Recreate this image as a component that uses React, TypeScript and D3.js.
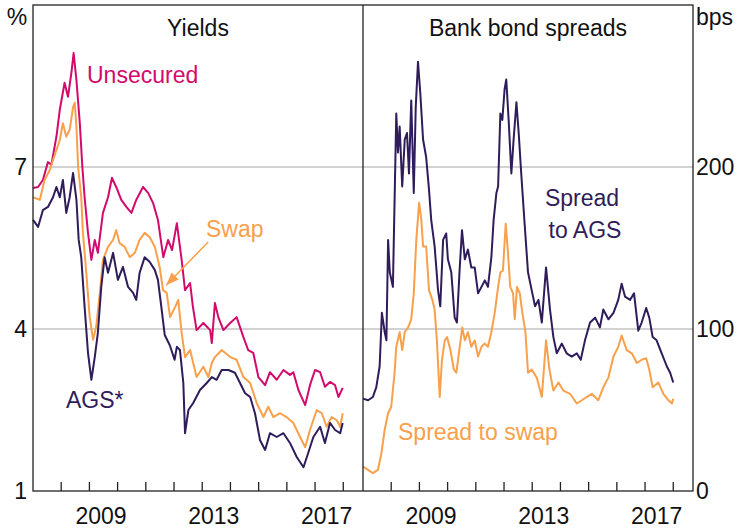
import { useRef, useEffect } from 'react';
import * as d3 from 'd3';

type Pt = [number, number];

// [decimal year, per cent]
const unsecured: Pt[] = [
  [2007.0, 6.61], [2007.18, 6.63], [2007.35, 6.76], [2007.53, 7.09], [2007.65, 7.04],
  [2007.83, 7.56], [2007.95, 8.06], [2008.12, 8.56], [2008.24, 8.3], [2008.36, 8.74],
  [2008.44, 9.11], [2008.54, 8.61], [2008.66, 7.81], [2008.75, 7.0], [2008.83, 6.44],
  [2008.95, 5.78], [2009.07, 5.28], [2009.19, 5.65], [2009.3, 5.41], [2009.48, 6.15],
  [2009.66, 6.44], [2009.8, 6.8], [2009.95, 6.63], [2010.13, 6.39], [2010.31, 6.26],
  [2010.49, 6.15], [2010.66, 6.39], [2010.9, 6.63], [2011.08, 6.52], [2011.26, 6.33],
  [2011.43, 6.02], [2011.62, 5.33], [2011.79, 5.65], [2011.93, 5.46], [2012.1, 5.96],
  [2012.27, 5.28], [2012.39, 4.72], [2012.57, 4.85], [2012.67, 4.41], [2012.8, 3.98],
  [2013.04, 4.11], [2013.28, 3.98], [2013.34, 3.74], [2013.45, 4.48], [2013.57, 4.22],
  [2013.75, 3.98], [2013.99, 4.11], [2014.22, 4.22], [2014.46, 3.85], [2014.63, 3.61],
  [2014.81, 3.56], [2014.99, 3.11], [2015.23, 2.96], [2015.4, 3.2], [2015.64, 3.06],
  [2015.88, 3.24], [2016.11, 3.15], [2016.23, 3.2], [2016.41, 2.87], [2016.65, 2.59],
  [2016.82, 2.96], [2017.0, 3.24], [2017.18, 3.2], [2017.35, 2.93], [2017.53, 3.02],
  [2017.71, 2.96], [2017.83, 2.74], [2017.98, 2.91],
];

const swap: Pt[] = [
  [2007.0, 6.44], [2007.24, 6.39], [2007.41, 6.76], [2007.59, 6.94], [2007.71, 7.13],
  [2007.83, 7.31], [2007.95, 7.5], [2008.06, 7.81], [2008.18, 7.56], [2008.3, 7.69],
  [2008.42, 8.11], [2008.48, 8.19], [2008.54, 7.74], [2008.6, 7.0], [2008.71, 6.44],
  [2008.77, 5.78], [2008.89, 5.04], [2009.01, 4.22], [2009.13, 3.8], [2009.24, 4.04],
  [2009.37, 4.67], [2009.48, 5.28], [2009.66, 5.52], [2009.84, 5.65], [2009.95, 5.83],
  [2010.07, 5.59], [2010.25, 5.52], [2010.43, 5.33], [2010.61, 5.41], [2010.78, 5.65],
  [2010.96, 5.78], [2011.14, 5.7], [2011.32, 5.52], [2011.49, 5.15], [2011.61, 4.72],
  [2011.74, 4.67], [2011.86, 4.22], [2012.04, 4.41], [2012.15, 4.54], [2012.27, 3.93],
  [2012.39, 3.48], [2012.57, 3.61], [2012.8, 3.11], [2013.04, 3.3], [2013.22, 3.11],
  [2013.34, 3.37], [2013.45, 3.48], [2013.69, 3.61], [2013.99, 3.48], [2014.22, 3.43],
  [2014.46, 3.11], [2014.7, 3.0], [2014.93, 2.63], [2015.17, 2.37], [2015.34, 2.56],
  [2015.52, 2.37], [2015.76, 2.44], [2015.99, 2.37], [2016.23, 2.26], [2016.47, 2.0],
  [2016.65, 1.81], [2016.82, 2.13], [2017.06, 2.5], [2017.24, 2.44], [2017.41, 2.19],
  [2017.59, 2.37], [2017.77, 2.31], [2017.89, 2.19], [2017.98, 2.44],
];

const ags: Pt[] = [
  [2007.0, 6.02], [2007.18, 5.89], [2007.35, 6.2], [2007.53, 6.26], [2007.71, 6.44],
  [2007.83, 6.63], [2007.95, 6.44], [2008.06, 6.76], [2008.18, 6.15], [2008.3, 6.44],
  [2008.42, 6.89], [2008.54, 6.39], [2008.62, 5.65], [2008.71, 5.33], [2008.83, 4.41],
  [2008.95, 3.56], [2009.07, 3.06], [2009.19, 3.48], [2009.3, 3.93], [2009.42, 4.78],
  [2009.54, 5.33], [2009.66, 5.04], [2009.84, 5.41], [2010.01, 4.91], [2010.19, 5.15],
  [2010.37, 4.78], [2010.55, 4.67], [2010.66, 4.54], [2010.78, 5.04], [2010.96, 5.33],
  [2011.14, 5.24], [2011.32, 5.09], [2011.43, 4.91], [2011.55, 4.41], [2011.67, 3.89],
  [2011.85, 3.7], [2012.02, 3.43], [2012.1, 3.67], [2012.21, 3.61], [2012.33, 3.0],
  [2012.39, 2.07], [2012.51, 2.5], [2012.68, 2.63], [2012.92, 2.87], [2013.16, 3.0],
  [2013.34, 3.11], [2013.51, 3.06], [2013.69, 3.24], [2013.93, 3.24], [2014.16, 3.19],
  [2014.34, 3.0], [2014.52, 2.81], [2014.7, 2.74], [2014.87, 2.44], [2015.05, 1.94],
  [2015.23, 1.76], [2015.4, 2.07], [2015.64, 2.0], [2015.88, 2.07], [2016.11, 1.89],
  [2016.35, 1.63], [2016.59, 1.44], [2016.71, 1.63], [2016.94, 2.0], [2017.18, 2.19],
  [2017.35, 1.89], [2017.53, 2.26], [2017.71, 2.13], [2017.89, 2.07], [2017.98, 2.26],
];

// [decimal year, basis points]
const spreadToAgs: Pt[] = [
  [2007.0, 57], [2007.18, 56], [2007.35, 58], [2007.47, 64], [2007.59, 77],
  [2007.67, 110], [2007.77, 98], [2007.83, 93], [2007.89, 155], [2007.95, 135],
  [2008.06, 126], [2008.18, 233], [2008.24, 209], [2008.3, 225], [2008.39, 188],
  [2008.48, 217], [2008.56, 221], [2008.63, 196], [2008.71, 241], [2008.8, 184],
  [2008.87, 237], [2008.95, 265], [2009.03, 246], [2009.13, 217], [2009.24, 206],
  [2009.34, 186], [2009.42, 167], [2009.54, 151], [2009.66, 124], [2009.74, 114],
  [2009.84, 155], [2009.95, 159], [2010.01, 143], [2010.13, 135], [2010.25, 107],
  [2010.33, 104], [2010.43, 138], [2010.51, 161], [2010.61, 143], [2010.72, 149],
  [2010.84, 138], [2010.96, 138], [2011.08, 122], [2011.2, 126], [2011.32, 130],
  [2011.43, 126], [2011.55, 144], [2011.63, 167], [2011.73, 184], [2011.79, 188],
  [2011.87, 233], [2011.94, 229], [2012.02, 248], [2012.08, 254], [2012.17, 227],
  [2012.26, 196], [2012.34, 217], [2012.44, 240], [2012.52, 221], [2012.61, 196],
  [2012.73, 165], [2012.85, 135], [2012.98, 124], [2013.1, 114], [2013.22, 118],
  [2013.34, 104], [2013.49, 138], [2013.63, 112], [2013.75, 95], [2013.87, 85],
  [2014.05, 91], [2014.22, 85], [2014.4, 83], [2014.58, 85], [2014.72, 81],
  [2014.87, 93], [2015.05, 104], [2015.23, 107], [2015.4, 101], [2015.52, 112],
  [2015.7, 106], [2015.88, 110], [2016.05, 118], [2016.17, 128], [2016.29, 120],
  [2016.47, 118], [2016.61, 122], [2016.76, 99], [2016.88, 104], [2017.04, 113],
  [2017.15, 107], [2017.27, 95], [2017.41, 93], [2017.59, 85], [2017.77, 77],
  [2017.89, 73], [2018.0, 67],
];

const spreadToSwap: Pt[] = [
  [2007.0, 15], [2007.18, 13], [2007.35, 11], [2007.53, 13], [2007.65, 23],
  [2007.77, 38], [2007.89, 48], [2008.0, 52], [2008.12, 73], [2008.18, 89],
  [2008.3, 98], [2008.39, 87], [2008.48, 98], [2008.6, 101], [2008.71, 106],
  [2008.8, 122], [2008.89, 155], [2008.99, 178], [2009.07, 167], [2009.13, 151],
  [2009.24, 151], [2009.34, 124], [2009.46, 118], [2009.54, 112], [2009.62, 93],
  [2009.72, 58], [2009.8, 81], [2009.9, 93], [2009.98, 95], [2010.1, 87],
  [2010.22, 75], [2010.31, 73], [2010.43, 89], [2010.52, 101], [2010.61, 93],
  [2010.72, 98], [2010.84, 89], [2010.96, 93], [2011.08, 83], [2011.2, 89],
  [2011.32, 91], [2011.43, 89], [2011.55, 98], [2011.67, 110], [2011.79, 126],
  [2011.87, 135], [2011.96, 136], [2012.06, 165], [2012.14, 147], [2012.22, 126],
  [2012.32, 122], [2012.38, 106], [2012.46, 126], [2012.56, 122], [2012.65, 110],
  [2012.76, 98], [2012.85, 73], [2012.98, 75], [2013.16, 70], [2013.34, 58],
  [2013.49, 93], [2013.61, 75], [2013.75, 62], [2013.93, 67], [2014.1, 62],
  [2014.34, 60], [2014.58, 54], [2014.76, 56], [2014.93, 58], [2015.11, 60],
  [2015.34, 56], [2015.52, 64], [2015.7, 70], [2015.88, 83], [2016.05, 89],
  [2016.17, 96], [2016.35, 87], [2016.53, 85], [2016.71, 79], [2016.88, 81],
  [2017.04, 82], [2017.15, 75], [2017.27, 64], [2017.47, 67], [2017.65, 60],
  [2017.83, 56], [2017.95, 54], [2018.0, 57],
];

const yieldTicks = [1, 4, 7];
const spreadTicks = [0, 100, 200];
const yearTicks = [2008, 2009, 2010, 2011, 2012, 2013, 2014, 2015, 2016, 2017, 2018];
const yearLabels = [2009, 2013, 2017];

const MAGENTA = '#d20a6c';
const ORANGE = '#f8a04c';
const PURPLE = '#2f1c5a';
const FONT = '"Liberation Sans", Arial, sans-serif';

export default function App() {
  const svgRef = useRef<SVGSVGElement>(null);

  useEffect(() => {
    if (!svgRef.current) return;
    const svg = d3.select(svgRef.current);
    svg.selectAll('*').remove();

    const width = 739;
    const height = 530;
    svg.attr('width', width).attr('height', height);

    const top = 5;
    const bottom = 491;
    const left = 33;
    const mid = 363;
    const right = 693;

    const xLeft = d3.scaleLinear().domain([2007, 2018.7]).range([left, mid]);
    const xRight = d3.scaleLinear().domain([2007, 2018.7]).range([mid, right]);
    const yLeft = d3.scaleLinear().domain([1, 10]).range([bottom, top]);
    const yRight = d3.scaleLinear().domain([0, 300]).range([bottom, top]);

    // gridlines
    svg.selectAll('.grid')
      .data(yieldTicks.filter((v) => v > 1))
      .join('line')
      .attr('x1', left)
      .attr('x2', right)
      .attr('y1', (d) => yLeft(d))
      .attr('y2', (d) => yLeft(d))
      .attr('stroke', '#c3c3c3')
      .attr('stroke-width', 1.4);

    // series
    const lineL = d3.line<Pt>().x((d) => xLeft(d[0])).y((d) => yLeft(d[1]));
    const lineR = d3.line<Pt>().x((d) => xRight(d[0])).y((d) => yRight(d[1]));

    const series: { data: Pt[]; color: string; gen: d3.Line<Pt> }[] = [
      { data: unsecured, color: MAGENTA, gen: lineL },
      { data: swap, color: ORANGE, gen: lineL },
      { data: ags, color: PURPLE, gen: lineL },
      { data: spreadToSwap, color: ORANGE, gen: lineR },
      { data: spreadToAgs, color: PURPLE, gen: lineR },
    ];
    series.forEach((s) => {
      svg.append('path')
        .attr('d', s.gen(s.data))
        .attr('fill', 'none')
        .attr('stroke', s.color)
        .attr('stroke-width', 2)
        .attr('stroke-linejoin', 'round');
    });

    // frame and divider
    svg.append('rect')
      .attr('x', left).attr('y', top)
      .attr('width', right - left).attr('height', bottom - top)
      .attr('fill', 'none').attr('stroke', '#222').attr('stroke-width', 1.3);
    svg.append('line')
      .attr('x1', mid).attr('x2', mid).attr('y1', top).attr('y2', bottom)
      .attr('stroke', '#222').attr('stroke-width', 1.3);

    // year ticks
    [xLeft, xRight].forEach((x) => {
      svg.append('g').selectAll('line')
        .data(yearTicks)
        .join('line')
        .attr('x1', (d) => x(d)).attr('x2', (d) => x(d))
        .attr('y1', bottom).attr('y2', bottom - 9)
        .attr('stroke', '#222').attr('stroke-width', 1.3);
      svg.append('g').selectAll('text')
        .data(yearLabels)
        .join('text')
        .attr('x', (d) => x(d + 0.5) - 2.5)
        .attr('y', 524)
        .attr('text-anchor', 'middle')
        .attr('font-family', FONT)
        .attr('font-size', 23)
        .attr('fill', '#111')
        .text((d) => d);
    });

    // y labels
    svg.selectAll('.yl')
      .data(yieldTicks)
      .join('text')
      .attr('x', 27)
      .attr('y', (d) => yLeft(d) + 8)
      .attr('text-anchor', 'end')
      .attr('font-family', FONT)
      .attr('font-size', 23)
      .attr('fill', '#111')
      .text((d) => d);
    svg.selectAll('.yr')
      .data(spreadTicks)
      .join('text')
      .attr('x', 696)
      .attr('y', (d) => yRight(d) + 8)
      .attr('font-family', FONT)
      .attr('font-size', 23)
      .attr('fill', '#111')
      .text((d) => d);

    const label = (x: number, y: number, t: string, color: string, anchor = 'start') =>
      svg.append('text')
        .attr('x', x).attr('y', y)
        .attr('text-anchor', anchor)
        .attr('font-family', FONT)
        .attr('font-size', 23)
        .attr('fill', color)
        .text(t);

    label(17, 25, '%', '#111', 'middle');
    label(696, 25, 'bps', '#111');
    label((left + mid) / 2, 36, 'Yields', '#111', 'middle');
    label((mid + right) / 2, 36, 'Bank bond spreads', '#111', 'middle');
    label(87, 83, 'Unsecured', MAGENTA);
    label(206, 237, 'Swap', ORANGE);
    label(66, 408, 'AGS*', PURPLE);
    label(582, 206, 'Spread', PURPLE, 'middle');
    label(585, 238, 'to AGS', PURPLE, 'middle');
    label(398, 440, 'Spread to swap', ORANGE);

    // arrow from "Swap" label to the swap line
    const a0: Pt = [xLeft(2013.21), yLeft(5.61)];
    const a1: Pt = [xLeft(2011.72), yLeft(4.81)];
    svg.append('line')
      .attr('x1', a0[0]).attr('y1', a0[1]).attr('x2', a1[0]).attr('y2', a1[1])
      .attr('stroke', ORANGE).attr('stroke-width', 1.5);
    const ang = Math.atan2(a1[1] - a0[1], a1[0] - a0[0]);
    const len = 13;
    const half = 5;
    const bx = a1[0] - len * Math.cos(ang);
    const by = a1[1] - len * Math.sin(ang);
    svg.append('path')
      .attr('d', `M${a1[0]},${a1[1]}L${bx + half * Math.sin(ang)},${by - half * Math.cos(ang)}L${bx - half * Math.sin(ang)},${by + half * Math.cos(ang)}Z`)
      .attr('fill', ORANGE);
  }, []);

  return (
    <div style={{ position: 'absolute', left: 0, top: 0 }}>
      <svg ref={svgRef} style={{ display: 'block' }} />
    </div>
  );
}
